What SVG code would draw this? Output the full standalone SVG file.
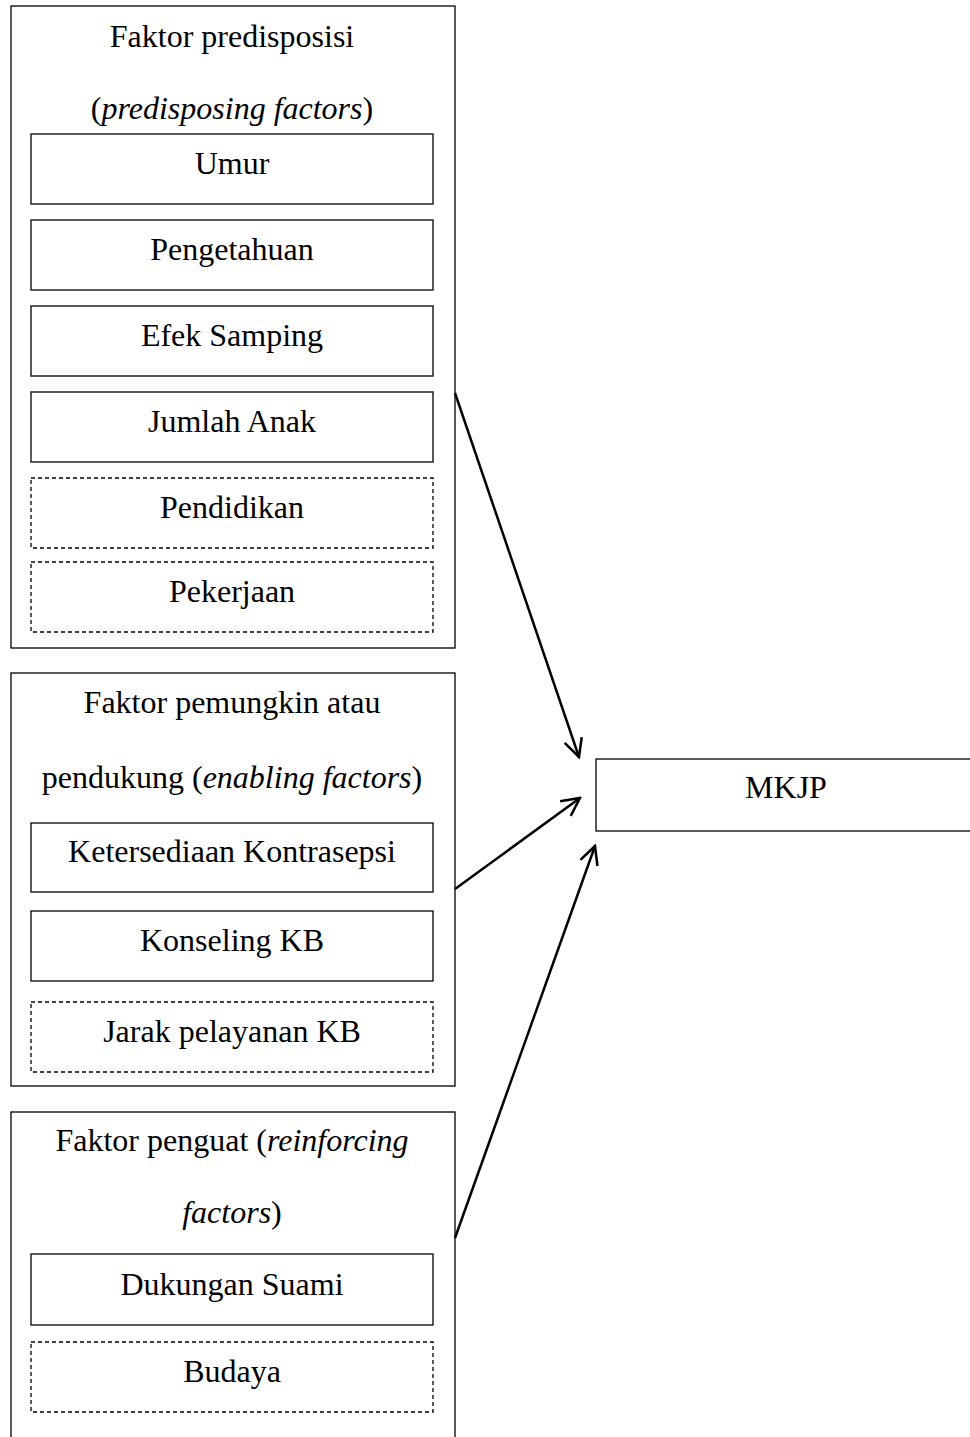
<svg xmlns="http://www.w3.org/2000/svg" width="970" height="1437" viewBox="0 0 970 1437">
<style>
text{font-family:"Liberation Serif","Times New Roman",serif;font-size:32px;fill:#000;text-anchor:middle}
.outer{fill:none;stroke:#000;stroke-width:1.3}
.inner{fill:none;stroke:#000;stroke-width:1.3}
.dash{fill:none;stroke:#000;stroke-width:1.3;stroke-dasharray:4 3}
.conn{fill:none;stroke:#000;stroke-width:2.5}
.it{font-style:italic}
</style>
<defs>
<marker id="arr" viewBox="0 0 22 22" refX="20" refY="11" markerWidth="22" markerHeight="22" markerUnits="userSpaceOnUse" orient="auto">
<path d="M2,2 L20,11 L2,20" fill="none" stroke="#000" stroke-width="2.5"/>
</marker>
</defs>
<rect width="970" height="1437" fill="#fff"/>
<g id="predisposing">
<rect class="outer" x="11" y="6" width="444" height="642"/>
<text x="232" y="47">Faktor predisposisi</text>
<text x="232" y="119">(<tspan class="it">predisposing factors</tspan>)</text>
</g>
<g id="umur"><rect class="inner" x="31" y="134" width="402" height="70"/><text x="232" y="174">Umur</text></g>
<g id="pengetahuan"><rect class="inner" x="31" y="220" width="402" height="70"/><text x="232" y="260">Pengetahuan</text></g>
<g id="efek"><rect class="inner" x="31" y="306" width="402" height="70"/><text x="232" y="346">Efek Samping</text></g>
<g id="jumlah"><rect class="inner" x="31" y="392" width="402" height="70"/><text x="232" y="432">Jumlah Anak</text></g>
<g id="pendidikan"><rect class="dash" x="31" y="478" width="402" height="70"/><text x="232" y="518">Pendidikan</text></g>
<g id="pekerjaan"><rect class="dash" x="31" y="562" width="402" height="70"/><text x="232" y="602">Pekerjaan</text></g>

<g id="enabling">
<rect class="outer" x="11" y="673" width="444" height="413"/>
<text x="232" y="713">Faktor pemungkin atau</text>
<text x="232" y="788">pendukung (<tspan class="it">enabling factors</tspan>)</text>
</g>
<g id="ketersediaan"><rect class="inner" x="31" y="823" width="402" height="69"/><text x="232" y="862">Ketersediaan Kontrasepsi</text></g>
<g id="konseling"><rect class="inner" x="31" y="911" width="402" height="70"/><text x="232" y="951">Konseling KB</text></g>
<g id="jarak"><rect class="dash" x="31" y="1002" width="402" height="70"/><text x="232" y="1042">Jarak pelayanan KB</text></g>

<g id="reinforcing">
<rect class="outer" x="11" y="1112" width="444" height="340"/>
<text x="232" y="1151">Faktor penguat (<tspan class="it">reinforcing</tspan></text>
<text x="232" y="1223"><tspan class="it">factors</tspan>)</text>
</g>
<g id="dukungan"><rect class="inner" x="31" y="1254" width="402" height="71"/><text x="232" y="1295">Dukungan Suami</text></g>
<g id="budaya"><rect class="dash" x="31" y="1342" width="402" height="70"/><text x="232" y="1382">Budaya</text></g>

<g id="mkjp"><rect class="inner" x="596" y="759" width="390" height="72"/><text x="786" y="798">MKJP</text></g>

<g id="connectors">
<line class="conn" x1="455" y1="393" x2="579" y2="757" marker-end="url(#arr)"/>
<line class="conn" x1="455" y1="889" x2="580" y2="798" marker-end="url(#arr)"/>
<line class="conn" x1="455" y1="1238" x2="595" y2="846" marker-end="url(#arr)"/>
</g>
</svg>
